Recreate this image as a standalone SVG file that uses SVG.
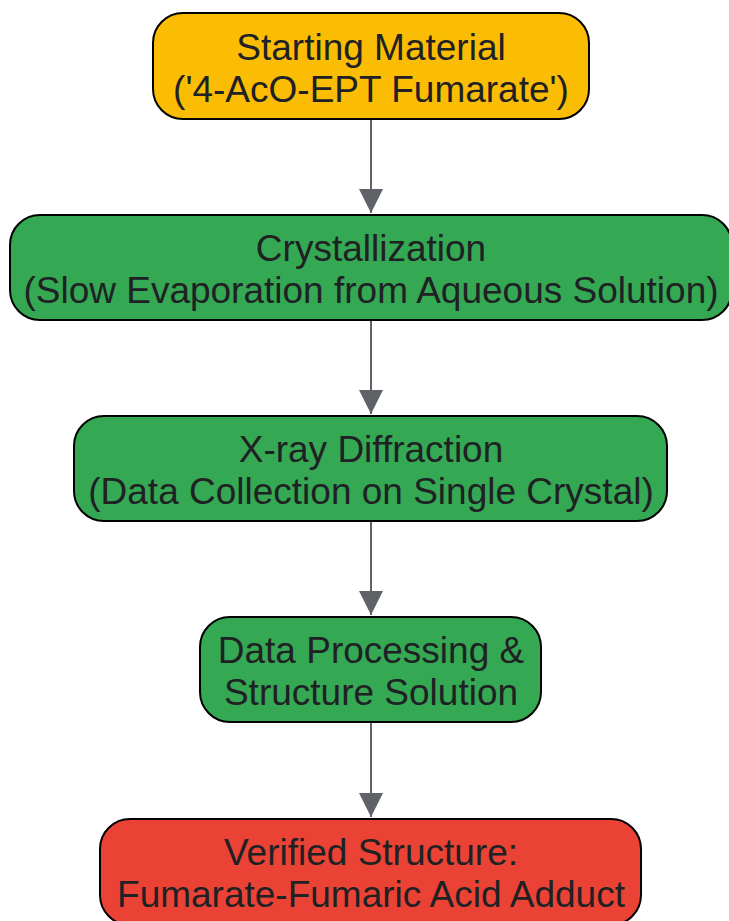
<svg xmlns="http://www.w3.org/2000/svg" width="729" height="921" viewBox="0 0 729 921">
<defs>
<style>
.box{stroke:#000;stroke-width:2}
.t{font-family:"Liberation Sans",Arial,sans-serif;font-size:37px;fill:#202124;text-anchor:middle}
.edge{stroke:#5f6368;stroke-width:2;fill:none}
</style>
<marker id="ah" markerUnits="userSpaceOnUse" markerWidth="24" markerHeight="32" refX="22" refY="11" orient="auto" viewBox="0 0 22 22">
<path d="M0,0 L22,11 L0,22 Z" fill="#5f6368"/>
</marker>
</defs>
<rect width="729" height="921" fill="#fff"/>
<g id="connectors">
<path class="edge" d="M371,119 V213" marker-end="url(#ah)"/>
<path class="edge" d="M371,320 V414" marker-end="url(#ah)"/>
<path class="edge" d="M371,521 V615" marker-end="url(#ah)"/>
<path class="edge" d="M371,722 V817" marker-end="url(#ah)"/>
</g>
<g id="n1">
<rect class="box" x="153" y="13" width="436" height="106" rx="30" fill="#fbbc04"/>
<text class="t" x="371" y="60">Starting Material</text>
<text class="t" x="371" y="102">('4-AcO-EPT Fumarate')</text>
</g>
<g id="n2">
<rect class="box" x="10" y="215" width="722" height="105" rx="30" fill="#34a853"/>
<text class="t" x="371" y="261">Crystallization</text>
<text class="t" x="371" y="303">(Slow Evaporation from Aqueous Solution)</text>
</g>
<g id="n3">
<rect class="box" x="74" y="416" width="593" height="105" rx="30" fill="#34a853"/>
<text class="t" x="371" y="462">X-ray Diffraction</text>
<text class="t" x="371" y="504">(Data Collection on Single Crystal)</text>
</g>
<g id="n4">
<rect class="box" x="200" y="617" width="341" height="105" rx="30" fill="#34a853"/>
<text class="t" x="371" y="663">Data Processing &amp;</text>
<text class="t" x="371" y="705">Structure Solution</text>
</g>
<g id="n5">
<rect class="box" x="100" y="819" width="541" height="106" rx="30" fill="#ea4335"/>
<text class="t" x="371" y="865">Verified Structure:</text>
<text class="t" x="371" y="907">Fumarate-Fumaric Acid Adduct</text>
</g>
</svg>
